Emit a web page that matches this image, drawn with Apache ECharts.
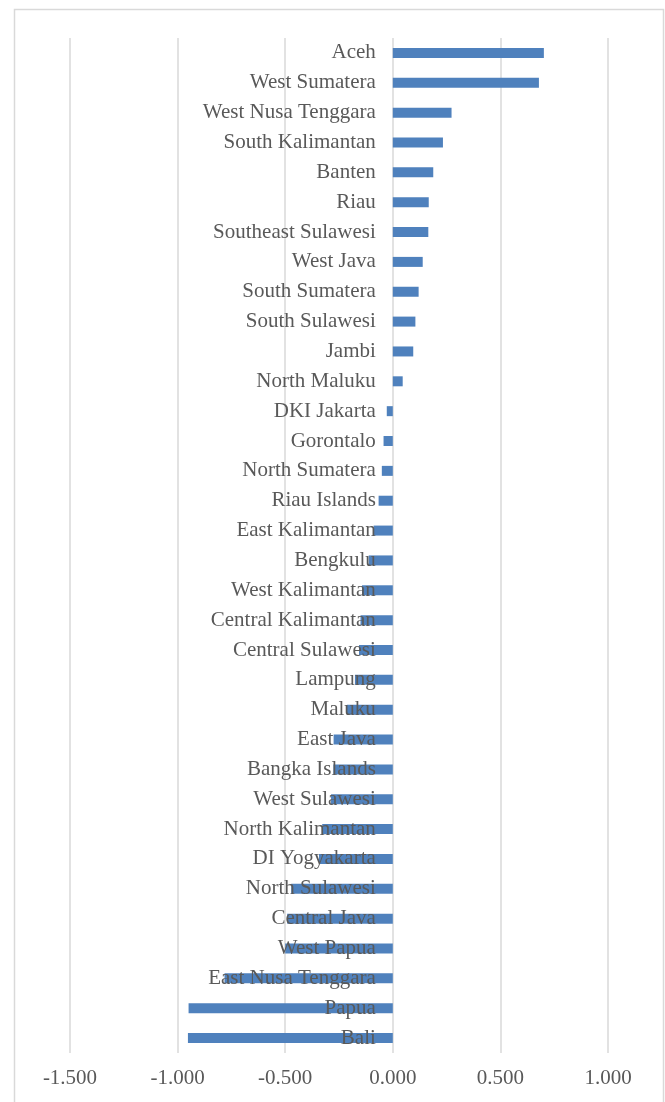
<!DOCTYPE html>
<html>
<head>
<meta charset="utf-8">
<script src="https://cdn.jsdelivr.net/npm/echarts@6/dist/echarts.min.js"></script>
<style>
html,body{margin:0;padding:0;background:#fff;}
#chart{width:665px;height:1102px;}
</style>
</head>
<body>
<div id="chart"></div>
<script>
const categories = [
  "Aceh","West Sumatera","West Nusa Tenggara","South Kalimantan","Banten","Riau",
  "Southeast Sulawesi","West Java","South Sumatera","South Sulawesi","Jambi","North Maluku",
  "DKI Jakarta","Gorontalo","North Sumatera","Riau Islands","East Kalimantan","Bengkulu",
  "West Kalimantan","Central Kalimantan","Central Sulawesi","Lampung","Maluku","East Java",
  "Bangka Islands","West Sulawesi","North Kalimantan","DI Yogyakarta","North Sulawesi",
  "Central Java","West Papua","East Nusa Tenggara","Papua","Bali"
];
const values = [
  0.702, 0.679, 0.273, 0.233, 0.188, 0.167,
  0.165, 0.139, 0.120, 0.105, 0.095, 0.046,
  -0.028, -0.043, -0.051, -0.066, -0.089, -0.112,
  -0.143, -0.150, -0.157, -0.176, -0.213, -0.275,
  -0.276, -0.287, -0.328, -0.343, -0.472,
  -0.491, -0.500, -0.782, -0.949, -0.952
];
const xMin = -1.5, xMax = 1.0, xStep = 0.5;

const chart = echarts.init(document.getElementById('chart'));
const font = "'Liberation Serif', 'Times New Roman', serif";
chart.setOption({
  animation: false,
  backgroundColor: '#fff',
  graphic: [{
    type: 'rect', left: 12, top: 7, z: -10,
    shape: { width: 649, height: 1110 },
    style: { fill: 'none', stroke: '#d9d9d9', lineWidth: 1.5 }
  }],
  grid: { left: 70, right: 57, top: 38, bottom: 49, containLabel: false, outerBoundsMode: 'none' },
  xAxis: {
    type: 'value', min: xMin, max: xMax, interval: xStep,
    axisLine: { show: false, onZero: false }, axisTick: { show: false },
    splitLine: { show: true, lineStyle: { color: '#d9d9d9', width: 1.5 } },
    axisLabel: { color: '#595959', fontFamily: font, fontSize: 21, margin: 15,
      formatter: v => v.toFixed(3) }
  },
  yAxis: {
    type: 'category', data: categories, inverse: true, z: 10,
    axisLine: { show: false, onZero: false },
    axisTick: { show: false },
    axisLabel: { color: '#595959', fontFamily: font, fontSize: 21, margin: 17, interval: 0,
      padding: [4, 0, 0, 0] }
  },
  series: [{
    type: 'bar', data: values, barWidth: 10,
    itemStyle: { color: '#4f81bd' }
  }]
});
// place the category axis on the zero of the value axis
const px0 = chart.convertToPixel({ xAxisIndex: 0 }, 0);
const pxMin = chart.convertToPixel({ xAxisIndex: 0 }, xMin);
chart.setOption({ yAxis: { offset: -(px0 - pxMin) } });
</script>
</body>
</html>
